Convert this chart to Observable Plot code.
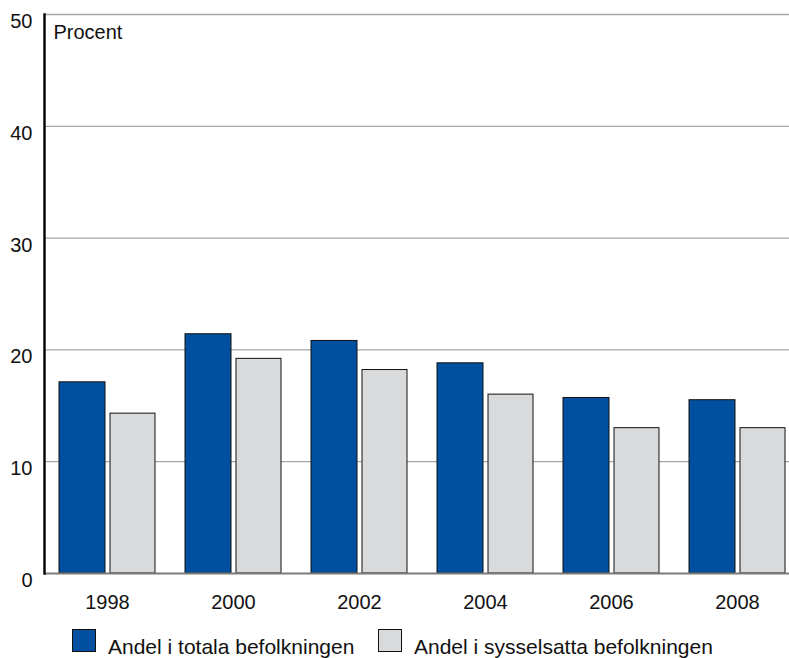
<!DOCTYPE html>
<html>
<head>
<meta charset="utf-8">
<script src="https://cdn.jsdelivr.net/npm/d3@7"></script>
<script src="https://cdn.jsdelivr.net/npm/@observablehq/plot@0.6"></script>
<style>
  html, body { margin: 0; padding: 0; background: #fff; }
  #chart { width: 789px; font-family: "Liberation Sans", Arial, sans-serif; }
  .legend { position: relative; height: 38px; font-size: 21px; color: #111; }
  .legend .item { position: absolute; top: 9px; display: flex; align-items: flex-end; }
  .legend .sw { width: 22px; height: 21px; border: 1.5px solid #111; box-sizing: content-box; }
  .legend .lbl { margin-left: 12px; line-height: 21px; position: relative; top: 5px; }
</style>
</head>
<body>
<div id="chart"></div>
<script>
const years = ["1998", "2000", "2002", "2004", "2006", "2008"];
const totalShare = [17.1, 21.4, 20.8, 18.8, 15.7, 15.5];
const employedShare = [14.3, 19.2, 18.2, 16.0, 13.0, 13.0];
const seriesNames = ["Andel i totala befolkningen", "Andel i sysselsatta befolkningen"];
const seriesColors = ["#00509f", "#d9dadc"];
const yTicks = [0, 10, 20, 30, 40, 50];
const yLabel = "Procent";

const totalRows = years.map((year, i) => ({year, value: totalShare[i]}));
const employedRows = years.map((year, i) => ({year, value: employedShare[i]}));

const plot = Plot.plot({
  width: 789,
  height: 620,
  marginLeft: 44,
  marginRight: 0,
  marginTop: 14,
  marginBottom: 47,
  style: {fontFamily: "'Liberation Sans', Arial, sans-serif", fontSize: "20px", color: "#111", background: "#fff"},
  x: {domain: years, range: [44, 800], paddingInner: 0.238, paddingOuter: 0.119, align: 0.5},
  y: {domain: [0, 50]},
  marks: [
    Plot.ruleY(yTicks.filter(t => t > 0), {stroke: "#a8a8a8", strokeWidth: 1.3}),
    Plot.barY(totalRows, {x: "year", y: "value", fill: seriesColors[0], stroke: "#111", strokeWidth: 1, insetRight: 50}),
    Plot.barY(employedRows, {x: "year", y: "value", fill: seriesColors[1], stroke: "#111", strokeWidth: 1, insetLeft: 51}),
    Plot.ruleY([0], {stroke: "#7a7a7a", strokeWidth: 2.2}),
    Plot.frame({anchor: "left", stroke: "#000", strokeWidth: 2.4}),
    Plot.axisY({ticks: yTicks, tickSize: 0, tickPadding: 12, dy: 7, label: null, fontSize: 20}),
    Plot.axisX({tickSize: 0, tickPadding: 21, label: null, fontSize: 20}),
    Plot.text([yLabel], {frameAnchor: "top-left", textAnchor: "start", lineAnchor: "top", dx: 9, dy: 10, fontSize: 20, fill: "#111"})
  ]
});

const chart = document.getElementById("chart");
chart.appendChild(plot);

const legend = document.createElement("div");
legend.className = "legend";
const legendLefts = [72, 378];
seriesNames.forEach((name, i) => {
  const item = document.createElement("div");
  item.className = "item";
  item.style.left = legendLefts[i] + "px";
  const sw = document.createElement("div");
  sw.className = "sw";
  sw.style.background = seriesColors[i];
  const lbl = document.createElement("span");
  lbl.className = "lbl";
  lbl.textContent = name;
  item.appendChild(sw);
  item.appendChild(lbl);
  legend.appendChild(item);
});
chart.appendChild(legend);
</script>
</body>
</html>
